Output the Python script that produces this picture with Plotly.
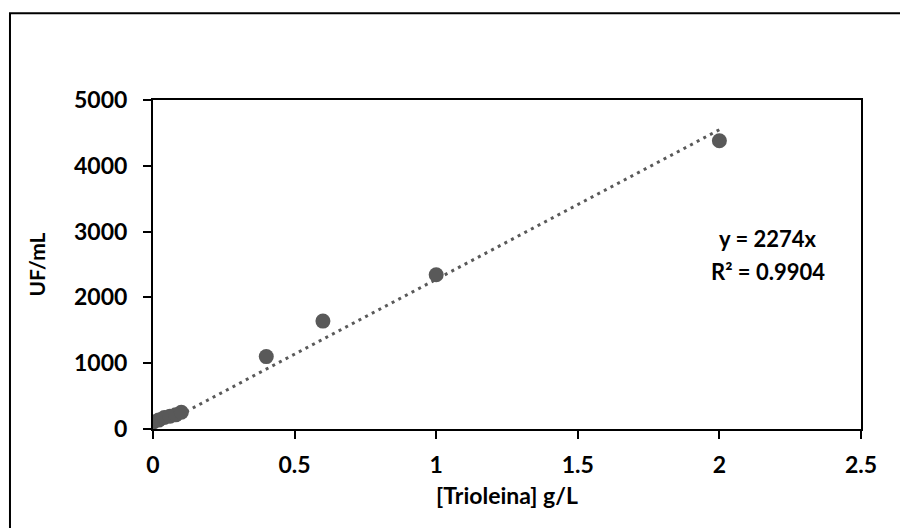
import plotly.graph_objects as go

# Trioleina concentration (g/L) and measured fluorescence units (UF/mL)
trioleina = [0, 0.02, 0.04, 0.06, 0.08, 0.1, 0.4, 0.6, 1.0, 2.0]
uf_ml = [105, 135, 175, 195, 215, 255, 1100, 1640, 2345, 4380]

# Linear fit through the origin
slope = 2274
r_squared = 0.9904
fit_x = [0, 2]
fit_y = [slope * v for v in fit_x]

x_ticks = [0, 0.5, 1, 1.5, 2, 2.5]
x_tick_text = ["0", "0.5", "1", "1.5", "2", "2.5"]
y_ticks = [0, 1000, 2000, 3000, 4000, 5000]

FONT = "Lato, Carlito, Calibri, sans-serif"
GRAY = "#595959"

fig = go.Figure()

fig.add_trace(go.Scatter(
    x=fit_x, y=fit_y, mode="lines",
    line=dict(color=GRAY, width=3, dash="3px,4.5px"),
    hoverinfo="skip", showlegend=False,
))

fig.add_trace(go.Scatter(
    x=trioleina, y=uf_ml, mode="markers",
    marker=dict(color=GRAY, size=15, line=dict(width=0)),
    showlegend=False,
))

# Fit equation and coefficient of determination
label_font = dict(family=FONT, size=22, color="#000000", weight="bold")
fig.add_annotation(
    x=2.17, y=2890, xref="x", yref="y", text=f"y = {slope}x",
    showarrow=False, font=label_font,
)
fig.add_annotation(
    x=2.17, y=2400, xref="x", yref="y", text=f"R² = {r_squared}",
    showarrow=False, font=label_font,
)

axis_common = dict(
    showgrid=False, zeroline=False,
    showline=True, linecolor="#000000", linewidth=2, mirror=True,
    ticks="outside", ticklen=8, tickwidth=2, tickcolor="#000000",
    tickfont=dict(family=FONT, size=23, color="#000000", weight="bold"),
)

fig.update_xaxes(
    range=[0, 2.5], tickvals=x_ticks, ticktext=x_tick_text,
    ticklabelstandoff=6,
    title=dict(text="[Trioleina] g/L", standoff=11,
               font=dict(family=FONT, size=23, color="#000000", weight="bold")),
    **axis_common,
)
fig.update_yaxes(
    range=[0, 5000], tickvals=y_ticks,
    ticklabelstandoff=11,
    title=dict(text="UF/mL", standoff=23,
               font=dict(family=FONT, size=21, color="#000000", weight="bold")),
    **axis_common,
)

# Chart frame (outer border)
fig.add_shape(
    type="rect", xref="paper", yref="paper",
    x0=-0.202, x1=1.2, y0=-0.6, y1=1.264,
    line=dict(color="#000000", width=2), fillcolor="rgba(0,0,0,0)",
    layer="below",
)

fig.update_layout(
    width=900, height=528,
    margin=dict(l=153, r=39, t=100, b=99),
    paper_bgcolor="#ffffff", plot_bgcolor="#ffffff",
    font=dict(family=FONT, color="#000000"),
)

fig.write_html("out.html")
